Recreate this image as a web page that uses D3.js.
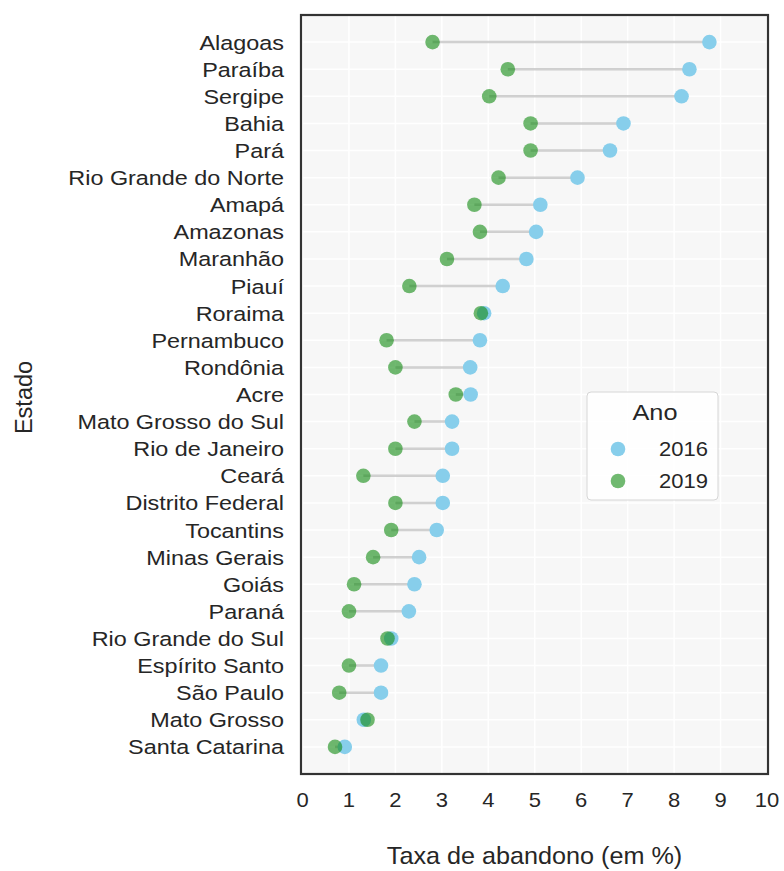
<!DOCTYPE html>
<html>
<head>
<meta charset="utf-8">
<script src="https://cdn.jsdelivr.net/npm/d3@7"></script>
<style>
  html, body { margin: 0; padding: 0; background: #ffffff; }
  text { font-family: "Liberation Sans", Arial, sans-serif; fill: #262626; }
</style>
</head>
<body>
<svg id="chart" width="784" height="871"></svg>
<script>
const estados = ["Alagoas","Paraíba","Sergipe","Bahia","Pará","Rio Grande do Norte","Amapá","Amazonas","Maranhão","Piauí","Roraima","Pernambuco","Rondônia","Acre","Mato Grosso do Sul","Rio de Janeiro","Ceará","Distrito Federal","Tocantins","Minas Gerais","Goiás","Paraná","Rio Grande do Sul","Espírito Santo","São Paulo","Mato Grosso","Santa Catarina"];
const taxa2016 = [8.76,8.33,8.16,6.91,6.62,5.92,5.12,5.03,4.82,4.31,3.91,3.82,3.61,3.62,3.22,3.22,3.02,3.02,2.89,2.51,2.41,2.29,1.91,1.69,1.69,1.32,0.91];
const taxa2019 = [2.80,4.42,4.02,4.91,4.91,4.22,3.70,3.82,3.11,2.30,3.84,1.81,2.00,3.30,2.41,2.00,1.31,2.00,1.91,1.52,1.11,1.00,1.83,1.00,0.79,1.40,0.70];
const xTicks = [0,1,2,3,4,5,6,7,8,9,10];
const anos = ["2016","2019"];
const cores = ["#87ceeb", "#108a10"];

const svg = d3.select("#chart");
const L = 301, R = 768, T = 15, B = 774;

const x = d3.scaleLinear().domain([0, 10]).range([302.5, 767]);
const y = d3.scalePoint().domain(estados).range([T, B]).padding(1);

// background
svg.append("rect").attr("x", L).attr("y", T).attr("width", R - L).attr("height", B - T)
  .attr("fill", "#f7f7f7");

// grid
svg.append("g").selectAll("line").data(xTicks).join("line")
  .attr("x1", d => x(d)).attr("x2", d => x(d)).attr("y1", T).attr("y2", B)
  .attr("stroke", "#ffffff").attr("stroke-width", 1.5);
svg.append("g").selectAll("line").data(estados).join("line")
  .attr("x1", L).attr("x2", R).attr("y1", d => y(d)).attr("y2", d => y(d))
  .attr("stroke", "#ffffff").attr("stroke-width", 1.5);

const rows = estados.map((e, i) => ({e, a: taxa2016[i], b: taxa2019[i]}));

// connecting lines
svg.append("g").selectAll("line").data(rows).join("line")
  .attr("x1", d => x(d.a)).attr("x2", d => x(d.b))
  .attr("y1", d => y(d.e)).attr("y2", d => y(d.e))
  .attr("stroke", "#999999").attr("stroke-opacity", 0.45).attr("stroke-width", 2.5);

// points
svg.append("g").selectAll("circle").data(rows).join("circle")
  .attr("cx", d => x(d.a)).attr("cy", d => y(d.e)).attr("r", 7.3)
  .attr("fill", cores[0]);
svg.append("g").selectAll("circle").data(rows).join("circle")
  .attr("cx", d => x(d.b)).attr("cy", d => y(d.e)).attr("r", 7.3)
  .attr("fill", cores[1]).attr("fill-opacity", 0.6);

// frame
svg.append("rect").attr("x", L).attr("y", T).attr("width", R - L).attr("height", B - T)
  .attr("fill", "none").attr("stroke", "#333333").attr("stroke-width", 2.2);

// y tick labels
const yAxis = d3.axisLeft(y).tickSize(0).tickPadding(0);
const gy = svg.append("g").attr("transform", `translate(284,0)`).call(yAxis);
gy.select(".domain").remove();
gy.selectAll(".tick text")
  .attr("font-size", 19.5).attr("fill", "#262626")
  .attr("font-family", "Liberation Sans, Arial, sans-serif")
  .attr("dy", "0.36em")
  .attr("transform", "scale(1.2,1)");

// x tick labels
const xAxis = d3.axisBottom(x).tickValues(xTicks).tickSize(0).tickPadding(0).tickFormat(d3.format("d"));
const gx = svg.append("g").attr("transform", `translate(0,${B + 19})`).call(xAxis);
gx.select(".domain").remove();
gx.selectAll(".tick text")
  .attr("font-size", 20).attr("fill", "#262626")
  .attr("font-family", "Liberation Sans, Arial, sans-serif")
  .attr("dy", "0.71em")
  .attr("transform", "scale(1.1,1)")
  .attr("x", function() { return 0; });
// keep x tick centers at scale positions despite horizontal scale
gx.selectAll(".tick").each(function(d) {
  d3.select(this).attr("transform", `translate(${x(d)},0)`);
});

// axis titles
svg.append("text").attr("transform", `translate(${(L + R) / 2},864) scale(1.05,1)`)
  .attr("text-anchor", "middle").attr("font-size", 24)
  .text("Taxa de abandono (em %)");
svg.append("text").attr("transform", `translate(32,${(T + B) / 2 + 3}) rotate(-90)`)
  .attr("text-anchor", "middle").attr("font-size", 23.5)
  .text("Estado");

// legend
const lg = svg.append("g");
lg.append("rect").attr("x", 587).attr("y", 392).attr("width", 131).attr("height", 108)
  .attr("rx", 4).attr("fill", "#ffffff").attr("fill-opacity", 0.8)
  .attr("stroke", "#d6d6d6").attr("stroke-width", 1);
lg.append("text").attr("transform", "translate(655,420) scale(1.15,1)").attr("text-anchor", "middle")
  .attr("font-size", 22).text("Ano");
anos.forEach((a, i) => {
  lg.append("circle").attr("cx", 618).attr("cy", 449 + i * 32).attr("r", 7.3)
    .attr("fill", cores[i]).attr("fill-opacity", i === 0 ? 1 : 0.6);
  lg.append("text").attr("transform", `translate(708,${456 + i * 32}) scale(1.1,1)`).attr("text-anchor", "end")
    .attr("font-size", 20).text(a);
});
</script>
</body>
</html>
